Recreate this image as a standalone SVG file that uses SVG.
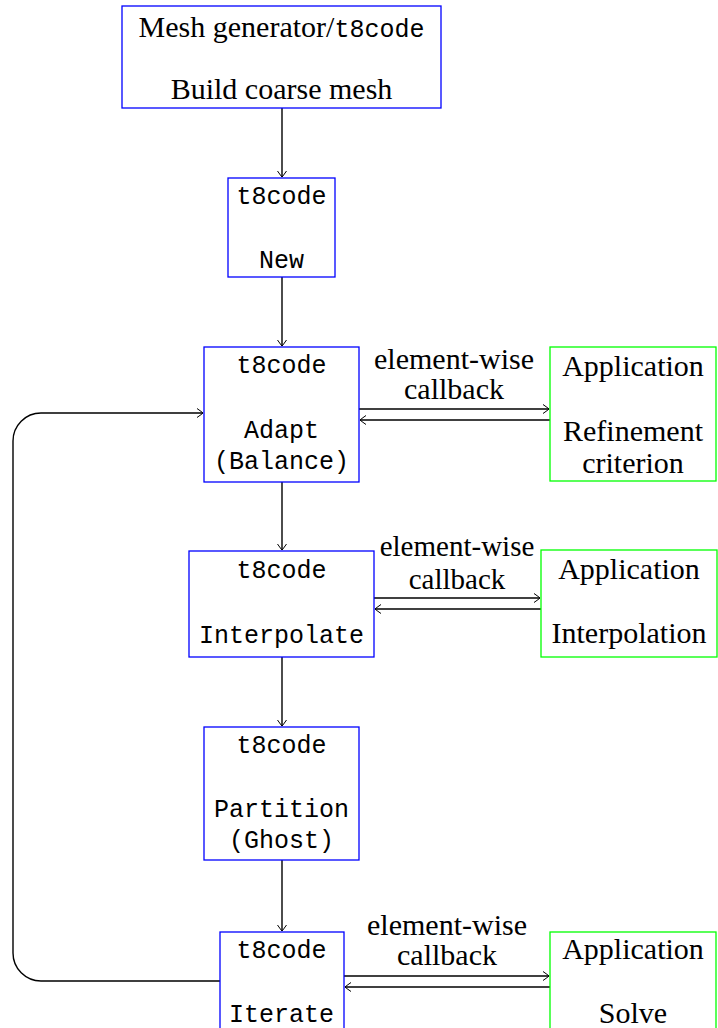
<svg xmlns="http://www.w3.org/2000/svg" width="718" height="1028" viewBox="0 0 718 1028">
<style>
.b{fill:#fff;stroke:#0000ff;stroke-width:1.3}
.g{fill:#fff;stroke:#00ff00;stroke-width:1.3}
.s{font-family:"Liberation Serif","DejaVu Serif",serif;font-size:30px;fill:#000;text-anchor:middle}
.t{font-size:29px}
.m{font-family:"Liberation Mono","DejaVu Sans Mono",monospace;font-size:25px;fill:#000;text-anchor:middle}
.c{fill:none;stroke:#000;stroke-width:1.4}
</style>
<defs>
<marker id="ah" viewBox="-8 -6 10 12" markerWidth="10" markerHeight="12" refX="0" refY="0" orient="auto" markerUnits="userSpaceOnUse">
<path d="M -6 -4.5 Q -1 -1 0 0 Q -1 1 -6 4.5" fill="none" stroke="#000" stroke-width="1"/>
</marker>
</defs>
<g id="connectors">
<path class="c" d="M 282 108 V 177" marker-end="url(#ah)"/>
<path class="c" d="M 282 277 V 346" marker-end="url(#ah)"/>
<path class="c" d="M 282 482 V 550" marker-end="url(#ah)"/>
<path class="c" d="M 282 657 V 726" marker-end="url(#ah)"/>
<path class="c" d="M 282 860 V 931" marker-end="url(#ah)"/>
<path class="c" d="M 359 409 H 549" marker-end="url(#ah)"/>
<path class="c" d="M 550 420 H 360" marker-end="url(#ah)"/>
<path class="c" d="M 374 598 H 540" marker-end="url(#ah)"/>
<path class="c" d="M 541 609 H 375" marker-end="url(#ah)"/>
<path class="c" d="M 344 976 H 549" marker-end="url(#ah)"/>
<path class="c" d="M 550 987 H 345" marker-end="url(#ah)"/>
<path class="c" d="M 220 981 H 41 A 28 28 0 0 1 13 953 V 441 A 28 28 0 0 1 41 413 H 203" marker-end="url(#ah)"/>
<text class="s" x="454" y="369">element-wise</text>
<text class="s" x="454" y="399">callback</text>
<text class="s t" x="457" y="556">element-wise</text>
<text class="s t" x="457" y="589">callback</text>
<text class="s" x="447" y="935">element-wise</text>
<text class="s" x="447" y="965">callback</text>
</g>
<g id="mesh">
<rect class="b" x="122" y="6" width="319" height="102"/>
<text class="s" x="281.5" y="37">Mesh generator/<tspan class="m" style="text-anchor:start">t8code</tspan></text>
<text class="s" x="281.5" y="99">Build coarse mesh</text>
</g>
<g id="new">
<rect class="b" x="228" y="178" width="107" height="99"/>
<text class="m" x="281.5" y="204">t8code</text>
<text class="m" x="281.5" y="268">New</text>
</g>
<g id="adapt">
<rect class="b" x="204" y="347" width="155" height="135"/>
<text class="m" x="281.5" y="373">t8code</text>
<text class="m" x="281.5" y="438">Adapt</text>
<text class="m" x="281.5" y="469">(Balance)</text>
</g>
<g id="app-refine">
<rect class="g" x="550" y="347" width="166" height="134"/>
<text class="s" x="633" y="376">Application</text>
<text class="s" x="633" y="441">Refinement</text>
<text class="s" x="633" y="473">criterion</text>
</g>
<g id="interpolate">
<rect class="b" x="189" y="551" width="185" height="106"/>
<text class="m" x="281.5" y="578">t8code</text>
<text class="m" x="281.5" y="643">Interpolate</text>
</g>
<g id="app-interp">
<rect class="g" x="541" y="550" width="176" height="107"/>
<text class="s" x="629" y="579">Application</text>
<text class="s" x="629" y="643">Interpolation</text>
</g>
<g id="partition">
<rect class="b" x="204" y="727" width="155" height="133"/>
<text class="m" x="281.5" y="753">t8code</text>
<text class="m" x="281.5" y="817">Partition</text>
<text class="m" x="281.5" y="848">(Ghost)</text>
</g>
<g id="iterate">
<rect class="b" x="220" y="932" width="124" height="110"/>
<text class="m" x="281.5" y="958">t8code</text>
<text class="m" x="281.5" y="1022">Iterate</text>
</g>
<g id="app-solve">
<rect class="g" x="550" y="932" width="166" height="110"/>
<text class="s" x="633" y="959">Application</text>
<text class="s" x="633" y="1023">Solve</text>
</g>
</svg>
